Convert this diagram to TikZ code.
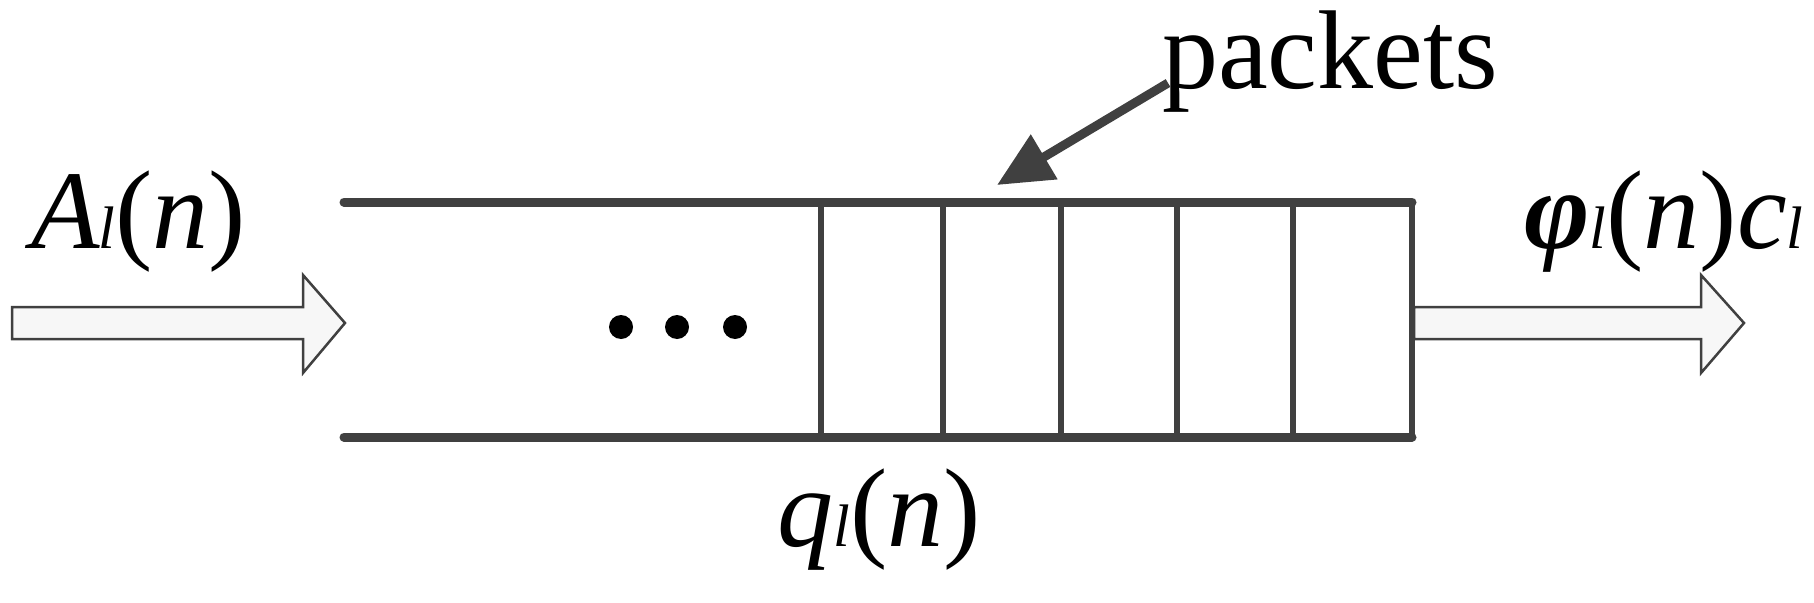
\documentclass[tikz,border=0pt]{standalone}
\usepackage{fontspec}
\setmainfont{Liberation Serif}
\usetikzlibrary{arrows.meta}
\definecolor{dg}{HTML}{404040}
\begin{document}
\begin{tikzpicture}[x=1pt,y=-1pt,
  rail/.style={dg,line width=9pt,line cap=round},
  sep/.style={dg,line width=6pt},
  fat/.style={draw=dg,line width=2.5pt,fill=gray!6},
  lbl/.style={font=\fontsize{112}{112}\selectfont,inner sep=0pt}]
\useasboundingbox (0,0) rectangle (1814,602);
\coordinate (tl) at (344,202); \coordinate (tr) at (1412,202);
\coordinate (bl) at (344,437); \coordinate (br) at (1412,437);
\draw[rail] (tl) -- (tr);
\draw[rail] (bl) -- (br);
\foreach \x in {821,943,1061,1177,1293,1412}{
  \coordinate (v\x t) at (\x,202); \coordinate (v\x b) at (\x,437);
  \draw[sep] (v\x t) -- (v\x b);}
\foreach \x in {621,677,735} \fill (\x,327) circle (12);
\draw[fat] (12,307) -- (303,307) -- (303,275) -- (345,323) -- (303,373) -- (303,339) -- (12,339) -- cycle;
\draw[fat] (1414,307) -- (1701,307) -- (1701,275) -- (1744,323) -- (1701,373) -- (1701,339) -- (1414,339) -- cycle;
\node[lbl] (pk) at (1330,62) {packets};
\coordinate (pkend) at (997,185);
\coordinate (pkst) at (1168,83);
\draw[dg,line width=9pt,-{Triangle[length=55pt,width=50pt]}] (pkst) -- (pkend);
\node[lbl] (A) at (139,222) {\textit{A}\kern-2pt\textit{\fontsize{60}{60}\selectfont l}(\textit{n})};
\node[lbl] (phi) at (1664,222) {\textbf{\textit{φ}}\textit{\fontsize{60}{60}\selectfont l}(\textit{n})\textit{c}\textit{\fontsize{60}{60}\selectfont l}};
\node[lbl] (q) at (879,520) {\textit{q}\textit{\fontsize{60}{60}\selectfont l}(\textit{n})};
\end{tikzpicture}
\end{document}
